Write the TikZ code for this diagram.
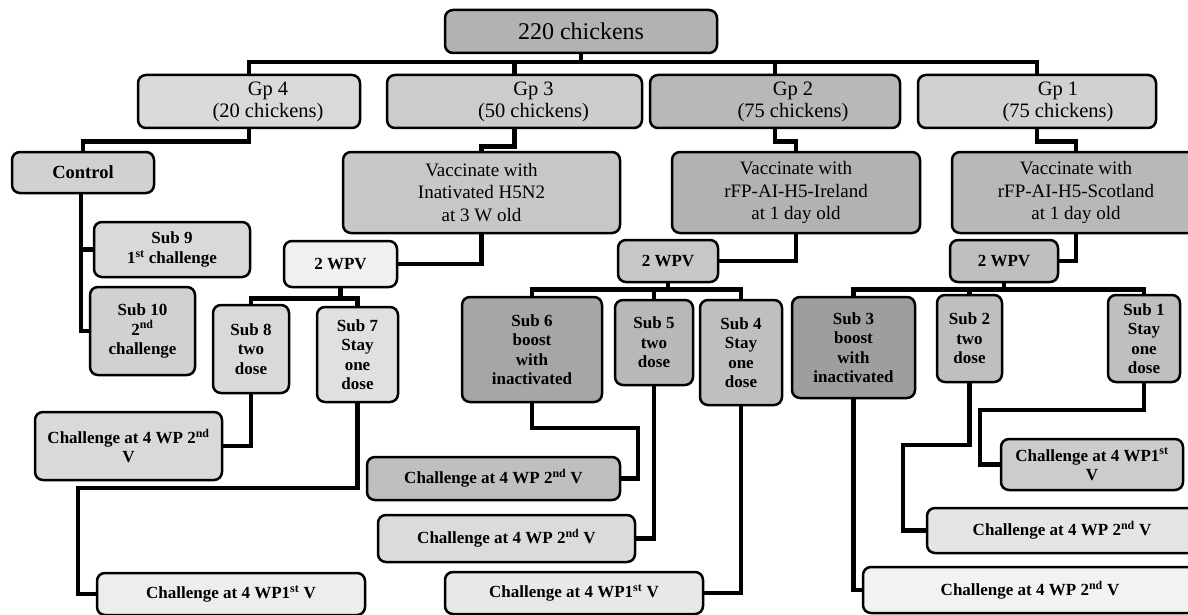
\documentclass[tikz,border=0pt]{standalone}
\usepackage{fontspec}
\setmainfont{Liberation Serif}
\usetikzlibrary{backgrounds}
\tikzset{
  box/.style={draw=black, line width=2.5pt, rounded corners=8pt, inner sep=0pt, align=center,
    font=\bfseries\fontsize{17}{19.5}\selectfont},
  gptext/.style={inner sep=0pt, align=center, font=\fontsize{20.5}{22}\selectfont},
  vacc/.style={font=\fontsize{19}{22.5}\selectfont},
  conn/.style={draw=black, line width=4.5pt, line join=miter}
}
\begin{document}
\begin{tikzpicture}[x=1pt,y=-1pt]
\useasboundingbox (0,0) rectangle (1188,615);
\clip (0,0) rectangle (1188,615);
% level 0
\node[box, fill=black!30, minimum width=272pt, minimum height=43pt, font=\fontsize{24}{26}\selectfont] (top) at (581,31.5) {220 chickens};
% groups
\node[box, fill=black!15, minimum width=222pt, minimum height=53pt] (gp4) at (249,101.5) {};
\node[gptext] (gp4t) at ([xshift=19pt]gp4.center) {Gp 4\\(20 chickens)};
\node[box, fill=black!20, minimum width=255pt, minimum height=53pt] (gp3) at (514.5,101.5) {};
\node[gptext] (gp3t) at ([xshift=19pt]gp3.center) {Gp 3\\(50 chickens)};
\node[box, fill=black!28, minimum width=250pt, minimum height=53pt] (gp2) at (775,101.5) {};
\node[gptext] (gp2t) at ([xshift=18pt]gp2.center) {Gp 2\\(75 chickens)};
\node[box, fill=black!18, minimum width=238pt, minimum height=53pt] (gp1) at (1037,101.5) {};
\node[gptext] (gp1t) at ([xshift=21pt]gp1.center) {Gp 1\\(75 chickens)};
% level 2
\node[box, fill=black!18, minimum width=142pt, minimum height=41pt, font=\bfseries\fontsize{18.5}{20}\selectfont] (control) at (83,172.5) {Control};
\node[box, vacc, fill=black!22, minimum width=277pt, minimum height=81pt] (h5n2) at (481.5,192.5) {Vaccinate with\\Inativated H5N2\\at 3 W old};
\node[box, vacc, fill=black!30, minimum width=248pt, minimum height=81pt] (ireland) at (796,192.5) {Vaccinate with\\rFP-AI-H5-Ireland\\at 1 day old};
\node[box, vacc, fill=black!28, minimum width=248pt, minimum height=81pt] (scotland) at (1076,192.5) {Vaccinate with\\rFP-AI-H5-Scotland\\at 1 day old};
% control subgroups
\node[box, fill=black!15, minimum width=156pt, minimum height=55pt] (sub9) at (172,249.5) {Sub 9\\1\textsuperscript{st} challenge};
\node[box, fill=black!18, minimum width=105pt, minimum height=88pt] (sub10) at (142.5,331) {Sub 10\\2\textsuperscript{nd}\\challenge};
% 2 WPV
\node[box, fill=black!6, minimum width=113pt, minimum height=46pt] (wpv3) at (340.5,264) {2 WPV};
\node[box, fill=black!22, minimum width=100pt, minimum height=42pt] (wpv2) at (668,261) {2 WPV};
\node[box, fill=black!25, minimum width=108pt, minimum height=42pt] (wpv1) at (1004,261) {2 WPV};
% subs
\node[box, fill=black!15, minimum width=76pt, minimum height=88pt] (sub8) at (251,349) {Sub 8\\two\\dose};
\node[box, fill=black!12, minimum width=81pt, minimum height=95pt] (sub7) at (357.5,354.5) {Sub 7\\Stay\\one\\dose};
\node[box, fill=black!35, minimum width=140pt, minimum height=105pt] (sub6) at (532,349.5) {Sub 6\\boost\\with\\inactivated};
\node[box, fill=black!28, minimum width=78pt, minimum height=85pt] (sub5) at (654,342.5) {Sub 5\\two\\dose};
\node[box, fill=black!25, minimum width=82pt, minimum height=105pt] (sub4) at (741,352.5) {Sub 4\\Stay\\one\\dose};
\node[box, fill=black!38, minimum width=123pt, minimum height=101pt] (sub3) at (853.5,347.5) {Sub 3\\boost\\with\\inactivated};
\node[box, fill=black!25, minimum width=65pt, minimum height=87pt] (sub2) at (969.5,338.5) {Sub 2\\two\\dose};
\node[box, fill=black!25, minimum width=72pt, minimum height=87pt] (sub1) at (1144,338.5) {Sub 1\\Stay\\one\\dose};
% challenges
\node[box, fill=black!15, minimum width=187pt, minimum height=68pt] (chL2) at (128.5,446) {Challenge at 4 WP 2\textsuperscript{nd}\\V};
\node[box, fill=black!7, minimum width=268pt, minimum height=42pt] (chL1) at (231,594) {Challenge at 4 WP1\textsuperscript{st} V};
\node[box, fill=black!25, minimum width=253pt, minimum height=43pt] (chM1) at (493.5,478.5) {Challenge at 4 WP 2\textsuperscript{nd} V};
\node[box, fill=black!14, minimum width=257pt, minimum height=47pt] (chM2) at (506.5,538.5) {Challenge at 4 WP 2\textsuperscript{nd} V};
\node[box, fill=black!9, minimum width=258pt, minimum height=42pt] (chM3) at (574,593) {Challenge at 4 WP1\textsuperscript{st} V};
\node[box, fill=black!20, minimum width=182pt, minimum height=51pt] (chR1) at (1092,464.5) {Challenge at 4 WP1\textsuperscript{st}\\V};
\node[box, fill=black!10, minimum width=270pt, minimum height=45pt] (chR2) at (1062,530.5) {Challenge at 4 WP 2\textsuperscript{nd} V};
\node[box, fill=black!5, minimum width=334pt, minimum height=46pt] (chR3) at (1030,590) {Challenge at 4 WP 2\textsuperscript{nd} V};
% bend points
\coordinate (bus) at (0,62);
\coordinate (k7) at (78,488);
\coordinate (k6) at (638,428);
\coordinate (k2) at (903,445);
\coordinate (k1) at (980,410);
\begin{pgfonlayer}{background}
\draw[conn] (top.south) -- (top.south |- bus);
\draw[conn] (gp4.north) |- (bus -| gp1.north) -- (gp1.north);
\draw[conn] (gp3.north) -- (gp3.north |- bus);
\draw[conn] (gp2.north) -- (gp2.north |- bus);
\draw[conn] (gp4.south) -- ++(0,12) -| (control.north);
\draw[conn] (gp3.south) -- ++(0,17) -| (h5n2.north);
\draw[conn] (gp2.south) -- ++(0,12) -| (ireland.north);
\draw[conn] (gp1.south) -- ++(0,12) -| (scotland.north);
\draw[conn] ([xshift=-2pt]control.south) |- (sub9.west);
\draw[conn] ([xshift=-2pt]control.south) |- (sub10.west);
\draw[conn] (h5n2.south) |- (wpv3.east);
\draw[conn] (ireland.south) |- (wpv2.east);
\draw[conn] (scotland.south) |- (wpv1.east);
\draw[conn] (wpv3.south) -- ++(0,10) -| (sub8.north);
\draw[conn] (wpv3.south) -- ++(0,10) -| (sub7.north);
\draw[conn] (wpv2.south) -- ++(0,6) -| (sub6.north);
\draw[conn] (wpv2.south) -- ++(0,6) -| (sub5.north);
\draw[conn] (wpv2.south) -- ++(0,6) -| (sub4.north);
\draw[conn] (wpv1.south) -- ++(0,6) -| (sub3.north);
\draw[conn] (wpv1.south) -- ++(0,6) -| (sub2.north);
\draw[conn] (wpv1.south) -- ++(0,6) -| (sub1.north);
\draw[conn] (sub8.south) |- (chL2.east);
\draw[conn] (sub7.south) |- (k7) |- (chL1.west);
\draw[conn] (sub6.south) |- (k6) |- (chM1.east);
\draw[conn] (sub5.south) |- (chM2.east);
\draw[conn] (sub4.south) |- (chM3.east);
\draw[conn] (sub3.south) |- (chR3.west);
\draw[conn] (sub2.south) |- (k2) |- (chR2.west);
\draw[conn] (sub1.south) |- (k1) |- (chR1.west);
\end{pgfonlayer}
\end{tikzpicture}
\end{document}
